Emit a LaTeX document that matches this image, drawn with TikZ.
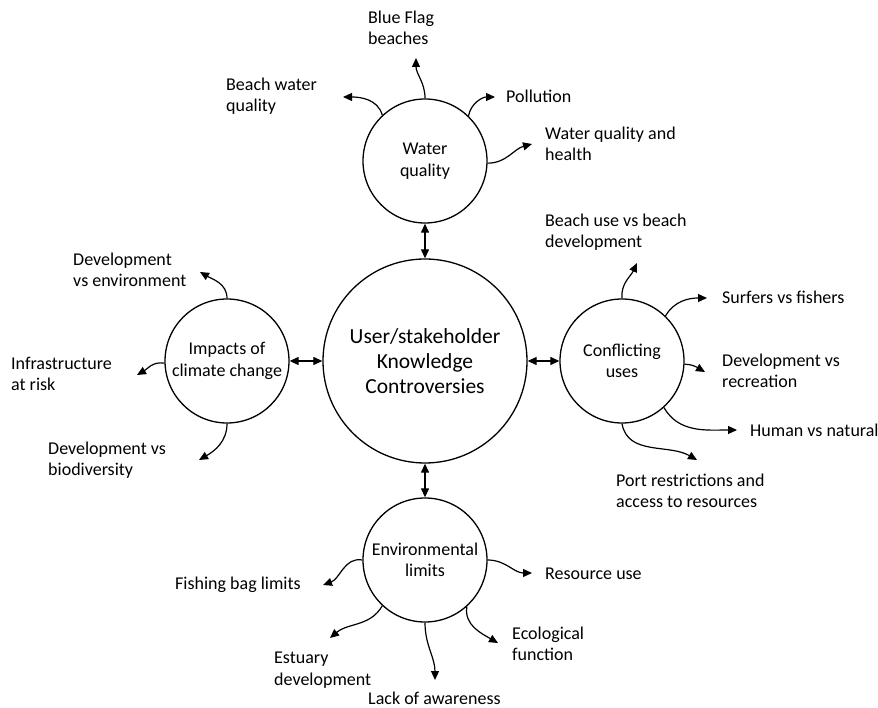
\documentclass[tikz,border=0pt]{standalone}
\usepackage{fontspec}
\setmainfont{Carlito}
\usetikzlibrary{arrows.meta}
\begin{document}
\begin{tikzpicture}[x=1pt,y=1pt,
  hub/.style={circle,draw,line width=1.3pt,inner sep=0pt,align=center,font=\fontsize{18}{21.5}\selectfont,minimum size=124pt},
  bighub/.style={hub,minimum size=204pt,font=\fontsize{21.5}{25}\selectfont},
  lbl/.style={anchor=west,inner sep=0pt,align=left,font=\fontsize{18}{21.5}\selectfont},
  br/.style={line width=1.2pt,-{Triangle[length=9pt,width=8pt]}},
  link/.style={line width=1.2pt,{Triangle[length=9pt,width=8pt]}-{Triangle[length=9pt,width=8pt]}}]
\useasboundingbox (0,0) rectangle (878,707);

% hubs
\node[bighub] (C) at (425,346) {User/stakeholder\\Knowledge\\Controversies};
\node[hub] (WQ) at (425,546) {Water\\quality};
\node[hub] (IM) at (227,346) {Impacts of\\climate change};
\node[hub] (CU) at (622,346) {Conflicting\\uses};
\node[hub] (EL) at (425,147) {Environmental\\limits};

\draw[link] (WQ.south) -- (C.north);
\draw[link] (IM.east) -- (C.west);
\draw[link] (C.east) -- (CU.west);
\draw[link] (C.south) -- (EL.north);

% labels
\node[lbl] (bf) at (368,679) {Blue Flag\\beaches};
\node[lbl] (bwq) at (226,611) {Beach water\\quality};
\node[lbl] (pol) at (506,611) {Pollution};
\node[lbl] (wqh) at (545,563) {Water quality and\\health};
\node[lbl] (dve) at (73,437) {Development\\vs environment};
\node[lbl] (inf) at (11,333) {Infrastructure\\at risk};
\node[lbl] (dvb) at (48,247) {Development vs\\biodiversity};
\node[lbl] (bu) at (545,475) {Beach use vs beach\\development};
\node[lbl] (sf) at (722,410) {Surfers vs fishers};
\node[lbl] (dvr) at (722,336) {Development vs\\recreation};
\node[lbl] (hvn) at (750,277) {Human vs natural};
\node[lbl] (port) at (616,216) {Port restrictions and\\access to resources};
\node[lbl] (fish) at (175,122) {Fishing bag limits};
\node[lbl] (res) at (545,133) {Resource use};
\node[lbl] (est) at (274,37) {Estuary\\development};
\node[lbl] (lack) at (368,9) {Lack of awareness};
\node[lbl] (eco) at (512,63) {Ecological\\function};

% arrow tips
\coordinate (bfT) at (416,649);
\coordinate (bwqT) at (343,610);
\coordinate (polT) at (495,610);
\coordinate (wqhT) at (532,563);
\coordinate (dveT) at (200,435);
\coordinate (infT) at (137,332);
\coordinate (dvbT) at (199,247);
\coordinate (buT) at (637,444);
\coordinate (sfT) at (707,409);
\coordinate (dvrT) at (705,335);
\coordinate (hvnT) at (737,277);
\coordinate (portT) at (697,247);
\coordinate (fishT) at (323,122);
\coordinate (estT) at (330,69);
\coordinate (lackT) at (435,27);
\coordinate (ecoT) at (498,64);
\coordinate (resT) at (532,134);

% branches
\draw[br] (WQ.90) to[out=90,in=-90] (bfT);
\draw[br] (WQ.133) to[out=105,in=0] (bwqT);
\draw[br] (WQ.46) to[out=80,in=180] (polT);
\draw[br] (WQ.-2) to[out=0,in=195] (wqhT);
\draw[br] (IM.90) to[out=90,in=-30] (dveT);
\draw[br] (IM.182) to[out=170,in=30] (infT);
\draw[br] (IM.-90) to[out=-90,in=30] (dvbT);
\draw[br] (CU.90) to[out=95,in=-115] (buT);
\draw[br] (CU.46) to[out=60,in=180] (sfT);
\draw[br] (CU.-3) to[out=0,in=150] (dvrT);
\draw[br] (CU.-48) to[out=-60,in=180] (hvnT);
\draw[br] (CU.-90) to[out=-80,in=150] (portT);
\draw[br] (EL.180) to[out=170,in=20] (fishT);
\draw[br] (EL.227) to[out=240,in=40] (estT);
\draw[br] (EL.-90) to[out=-90,in=90] (lackT);
\draw[br] (EL.-48) to[out=-100,in=150] (ecoT);
\draw[br] (EL.0) to[out=0,in=180] (resT);
\end{tikzpicture}
\end{document}
